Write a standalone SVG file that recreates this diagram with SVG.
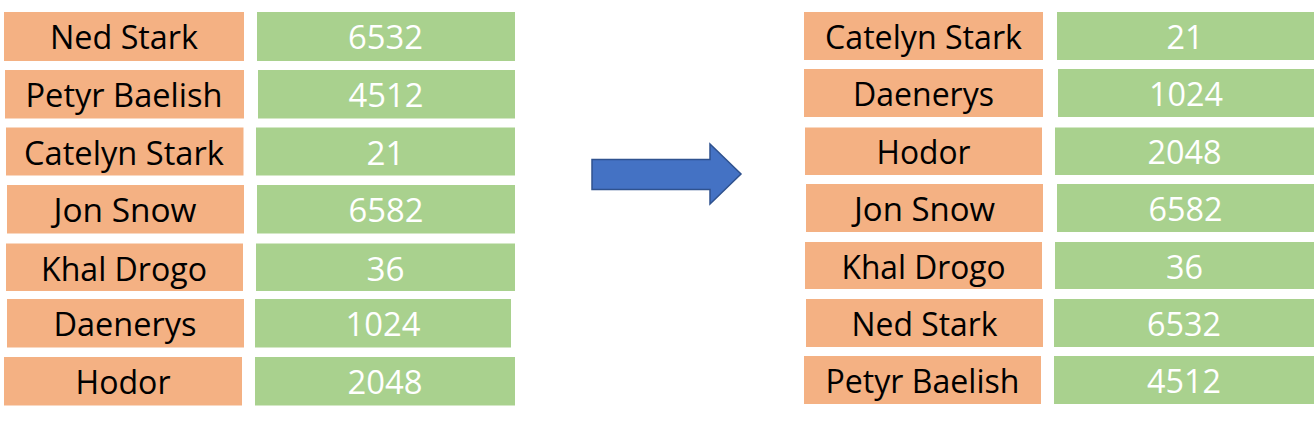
<svg xmlns="http://www.w3.org/2000/svg" width="1314" height="426" viewBox="0 0 1314 426">
<style>
.bg{fill:#ffffff}
.name rect{fill:#F4B183}
.val rect{fill:#A9D18E}
text{font-family:"Open Sans","Noto Sans","Liberation Sans",sans-serif;font-size:33.5px;text-anchor:middle}
.name text{fill:#000000}
.val text{fill:#ffffff}
.arrow{fill:#4472C4;stroke:#2F528F;stroke-width:1.5}
</style>
<rect class="bg" x="0" y="0" width="1314" height="426"/>
<g id="left-table">
<g id="l-name-1" class="name"><rect x="4" y="12" width="240" height="49"/><text x="124" y="49" textLength="148" lengthAdjust="spacingAndGlyphs">Ned Stark</text></g>
<g id="l-val-1" class="val"><rect x="257" y="12" width="258" height="49"/><text x="385.5" y="49" textLength="75" lengthAdjust="spacingAndGlyphs">6532</text></g>
<g id="l-name-2" class="name"><rect x="5" y="70" width="239" height="48.5"/><text x="124" y="107" textLength="197" lengthAdjust="spacingAndGlyphs">Petyr Baelish</text></g>
<g id="l-val-2" class="val"><rect x="258" y="70" width="257" height="48.5"/><text x="386" y="107" textLength="75" lengthAdjust="spacingAndGlyphs">4512</text></g>
<g id="l-name-3" class="name"><rect x="6" y="127.5" width="237.5" height="48"/><text x="124" y="164.5" textLength="200" lengthAdjust="spacingAndGlyphs">Catelyn Stark</text></g>
<g id="l-val-3" class="val"><rect x="256" y="127.5" width="259" height="48"/><text x="385.5" y="164.5" textLength="38" lengthAdjust="spacingAndGlyphs">21</text></g>
<g id="l-name-4" class="name"><rect x="7" y="185" width="237" height="48.5"/><text x="125" y="222" textLength="143" lengthAdjust="spacingAndGlyphs">Jon Snow</text></g>
<g id="l-val-4" class="val"><rect x="257" y="185" width="258" height="48.5"/><text x="386" y="222" textLength="75" lengthAdjust="spacingAndGlyphs">6582</text></g>
<g id="l-name-5" class="name"><rect x="6" y="243.5" width="237" height="47.5"/><text x="124" y="280.5" textLength="166" lengthAdjust="spacingAndGlyphs">Khal Drogo</text></g>
<g id="l-val-5" class="val"><rect x="256" y="243.5" width="259" height="47.5"/><text x="385.5" y="280.5" textLength="38" lengthAdjust="spacingAndGlyphs">36</text></g>
<g id="l-name-6" class="name"><rect x="7" y="299" width="237" height="48.5"/><text x="125" y="336" textLength="143" lengthAdjust="spacingAndGlyphs">Daenerys</text></g>
<g id="l-val-6" class="val"><rect x="255" y="299" width="256" height="48.5"/><text x="383" y="336" textLength="75" lengthAdjust="spacingAndGlyphs">1024</text></g>
<g id="l-name-7" class="name"><rect x="4" y="357" width="238" height="48.5"/><text x="123" y="394" textLength="95" lengthAdjust="spacingAndGlyphs">Hodor</text></g>
<g id="l-val-7" class="val"><rect x="255" y="357" width="260" height="48.5"/><text x="385" y="394" textLength="75" lengthAdjust="spacingAndGlyphs">2048</text></g>
</g>
<g id="connectors">
<path id="sort-arrow" class="arrow" d="M592,159.5 L710,159.5 L710,144 L741,174 L710,204 L710,189.5 L592,189.5 Z"/>
</g>
<g id="right-table">
<g id="r-name-1" class="name"><rect x="804" y="12" width="239" height="48"/><text x="923.5" y="48.5" textLength="197" lengthAdjust="spacingAndGlyphs">Catelyn Stark</text></g>
<g id="r-val-1" class="val"><rect x="1057" y="12" width="257" height="48"/><text x="1185" y="48.5" textLength="37" lengthAdjust="spacingAndGlyphs">21</text></g>
<g id="r-name-2" class="name"><rect x="804" y="69" width="239" height="48"/><text x="923.5" y="105.5" textLength="141" lengthAdjust="spacingAndGlyphs">Daenerys</text></g>
<g id="r-val-2" class="val"><rect x="1058" y="69" width="256" height="48"/><text x="1186" y="105.5" textLength="74" lengthAdjust="spacingAndGlyphs">1024</text></g>
<g id="r-name-3" class="name"><rect x="805" y="127.5" width="237" height="47.5"/><text x="923.5" y="164" textLength="94" lengthAdjust="spacingAndGlyphs">Hodor</text></g>
<g id="r-val-3" class="val"><rect x="1055" y="127.5" width="259" height="47.5"/><text x="1184.5" y="164" textLength="74" lengthAdjust="spacingAndGlyphs">2048</text></g>
<g id="r-name-4" class="name"><rect x="806" y="184" width="237" height="48"/><text x="924.5" y="220.5" textLength="141" lengthAdjust="spacingAndGlyphs">Jon Snow</text></g>
<g id="r-val-4" class="val"><rect x="1057" y="184" width="257" height="48"/><text x="1185.5" y="220.5" textLength="74" lengthAdjust="spacingAndGlyphs">6582</text></g>
<g id="r-name-5" class="name"><rect x="805" y="242" width="237" height="47"/><text x="923.5" y="278.5" textLength="164" lengthAdjust="spacingAndGlyphs">Khal Drogo</text></g>
<g id="r-val-5" class="val"><rect x="1055" y="242" width="259" height="47"/><text x="1184.5" y="278.5" textLength="37" lengthAdjust="spacingAndGlyphs">36</text></g>
<g id="r-name-6" class="name"><rect x="806" y="299" width="237" height="48"/><text x="924.5" y="335.5" textLength="146" lengthAdjust="spacingAndGlyphs">Ned Stark</text></g>
<g id="r-val-6" class="val"><rect x="1054" y="299" width="260" height="48"/><text x="1184" y="335.5" textLength="74" lengthAdjust="spacingAndGlyphs">6532</text></g>
<g id="r-name-7" class="name"><rect x="804" y="356" width="237" height="48"/><text x="922.5" y="392.5" textLength="194" lengthAdjust="spacingAndGlyphs">Petyr Baelish</text></g>
<g id="r-val-7" class="val"><rect x="1054" y="356" width="260" height="48"/><text x="1184" y="392.5" textLength="74" lengthAdjust="spacingAndGlyphs">4512</text></g>
</g>
</svg>
